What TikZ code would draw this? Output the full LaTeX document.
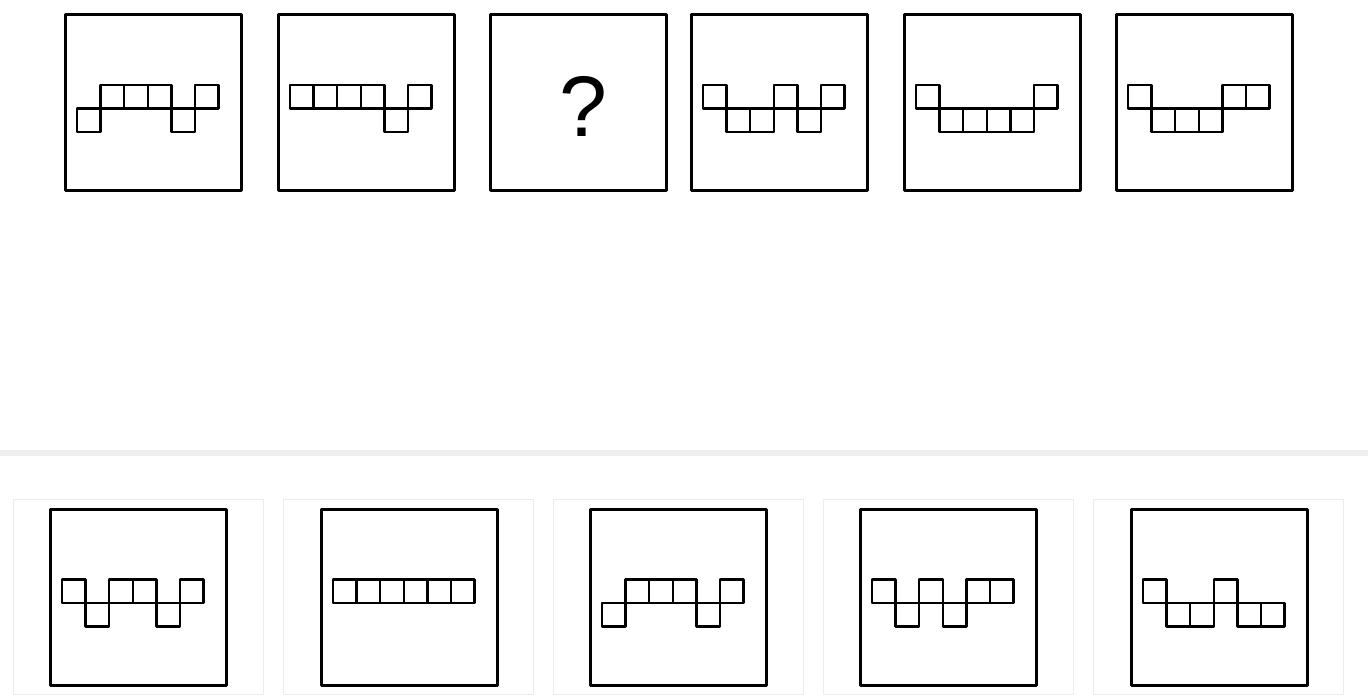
\documentclass[tikz,border=0pt]{standalone}
\usepackage{fontspec}
\setmainfont{Liberation Sans}
\definecolor{sepgray}{HTML}{EFEFEF}
\definecolor{framegray}{HTML}{ECECEC}
\tikzset{
  panel/.style={draw=black, line width=3pt, minimum size=176pt, inner sep=0pt, line join=round},
  optframe/.style={draw=framegray, line width=1.5pt, minimum width=250pt, minimum height=195pt, inner sep=0pt},
  cell/.style={draw=black, line width=2.4pt, line join=round}
}
\newcommand{\drawpattern}[2]{%
  % #1 = panel node name, #2 = list of 0 (up) / 1 (down)
  \foreach \s [count=\i from 0] in {#2} {
    \path (#1.center) ++(-76.5+\i*23.6, 6) coordinate (p);
    \ifnum\s=0
      \draw[cell] (p) rectangle ++(23.6,-23.6);
    \else
      \draw[cell] (p) rectangle ++(23.6,23.6);
    \fi
  }%
}
\begin{document}
\begin{tikzpicture}[x=1pt,y=-1pt]
\useasboundingbox (0,0) rectangle (1368,698);
\fill[white] (0,0) rectangle (1368,698);
% top row
\node[panel] (t1) at (153.5,102.5) {};
\node[panel] (t2) at (366.5,102.5) {};
\node[panel] (t3) at (578.5,102.5) {};
\node[panel] (t4) at (779.5,102.5) {};
\node[panel] (t5) at (992.5,102.5) {};
\node[panel] (t6) at (1204.5,102.5) {};
\node[anchor=base, font=\fontsize{86}{86}\selectfont, inner sep=0pt] (q) at (583,136.7) {?};
\drawpattern{t1}{1,0,0,0,1,0}
\drawpattern{t2}{0,0,0,0,1,0}
\drawpattern{t4}{0,1,1,0,1,0}
\drawpattern{t5}{0,1,1,1,1,0}
\drawpattern{t6}{0,1,1,1,0,0}
% separator
\fill[sepgray] (0,450) rectangle (1368,455.5);
% options
\node[optframe] (o1) at (138.5,596.75) {};
\node[optframe] (o2) at (408.5,596.75) {};
\node[optframe] (o3) at (678.5,596.75) {};
\node[optframe] (o4) at (948.5,596.75) {};
\node[optframe] (o5) at (1218.5,596.75) {};
\node[panel] (b1) at (138.5,597) {};
\node[panel] (b2) at (409.5,597) {};
\node[panel] (b3) at (678.5,597) {};
\node[panel] (b4) at (948.5,597) {};
\node[panel] (b5) at (1219.5,597) {};
\drawpattern{b1}{0,1,0,0,1,0}
\drawpattern{b2}{0,0,0,0,0,0}
\drawpattern{b3}{1,0,0,0,1,0}
\drawpattern{b4}{0,1,0,1,0,0}
\drawpattern{b5}{0,1,1,0,1,1}
\end{tikzpicture}
\end{document}
